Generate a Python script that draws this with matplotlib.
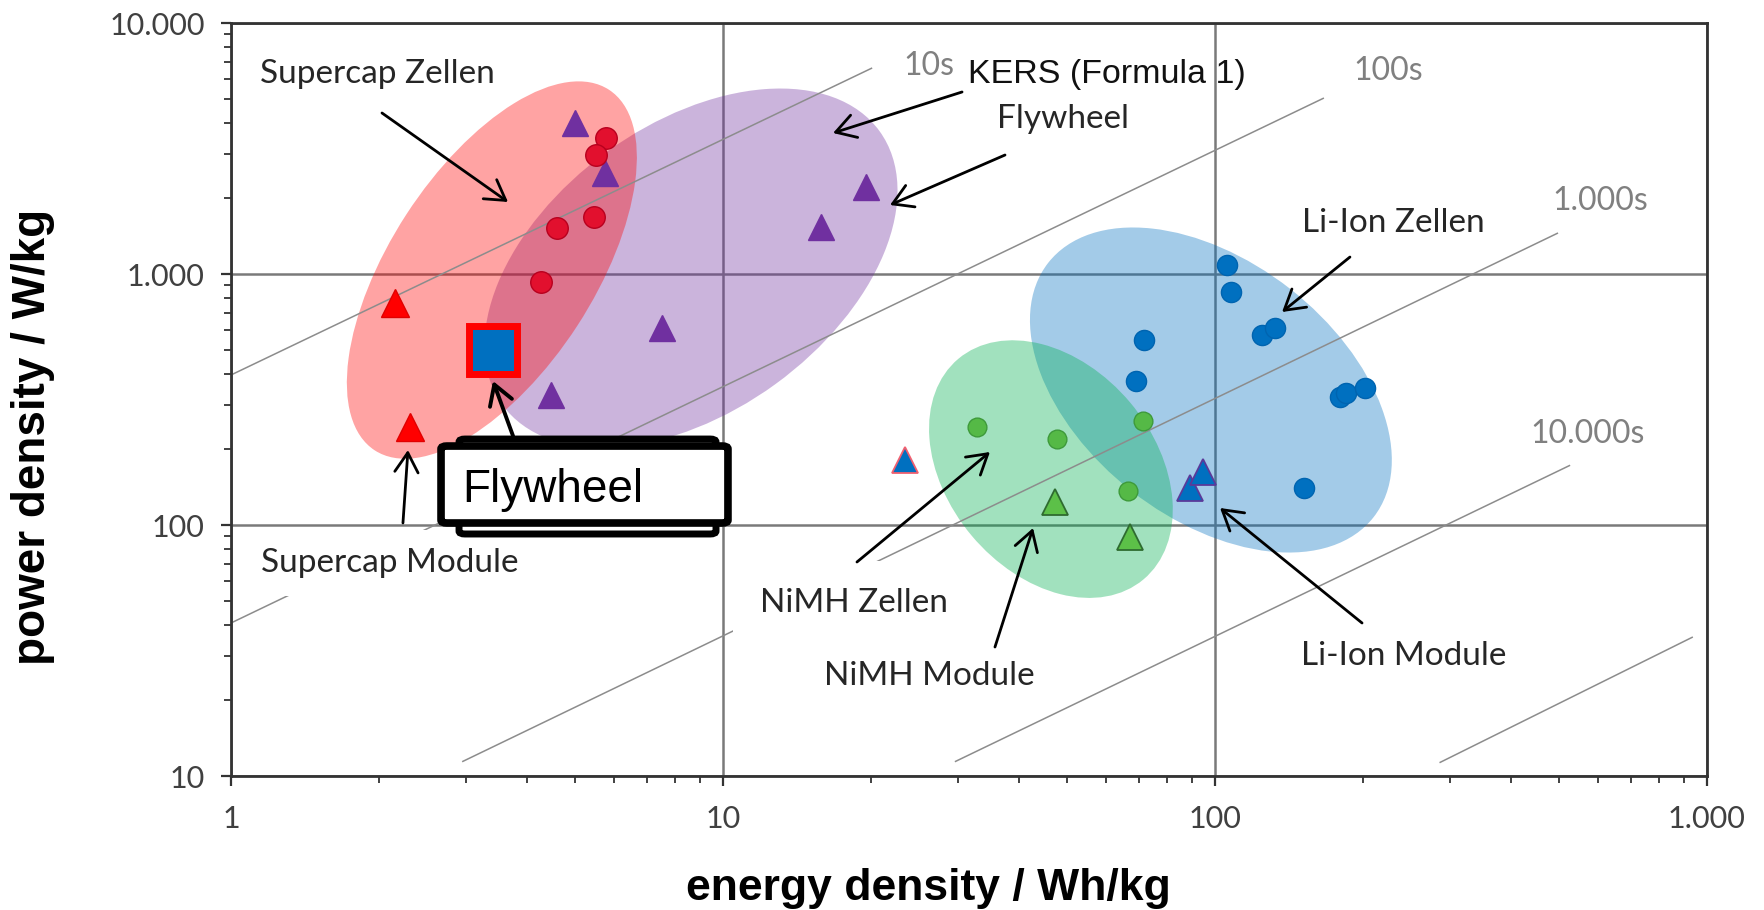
import matplotlib
matplotlib.use("Agg")
import matplotlib.pyplot as plt
from matplotlib.patches import Ellipse, FancyBboxPatch
from matplotlib.transforms import ScaledTranslation
from matplotlib.ticker import NullFormatter

plt.rcParams['font.family'] = ['Lato', 'DejaVu Sans']

# ---------------- data (energy density Wh/kg, power density W/kg) ----------------
supercap_cell_E = [5.78, 5.52, 5.47, 4.60, 4.27]
supercap_cell_P = [3480, 2980, 1690, 1525, 929]
supercap_module_E = [2.15, 2.31]
supercap_module_P = [766, 245]
flywheel_E = [5.0, 5.76, 19.5, 15.8, 7.52, 4.47]
flywheel_P = [4000, 2520, 2220, 1540, 609, 330]
liion_cell_E = [105.8, 108, 124.6, 132.4, 71.7, 69.1, 179.5, 185, 202, 152]
liion_cell_P = [1086, 848, 571, 609, 546, 375, 324, 336, 351, 140]
liion_module_E = [89, 94.6]
liion_module_P = [140, 163]
liion_module_red_E = [23.4]
liion_module_red_P = [181]
nimh_cell_E = [32.8, 47.7, 71.4, 66.6]
nimh_cell_P = [246, 220, 260, 137]
nimh_module_E = [47.3, 67.2]
nimh_module_P = [124, 89.6]
highlight_E = [3.41]
highlight_P = [498]

# region ellipses: centre in data units
region_center_E = [3.39, 8.61, 46.4, 98.1]
region_center_P = [1037, 1056, 167, 345]

# constant discharge-time lines (end points)
time_labels = ['10s', '100s', '1.000s', '10.000s', '']
line_E0 = [1, 1, 2.95, 29.6, 286]
line_P0 = [396, 40.7, 11.4, 11.4, 11.3]
line_E1 = [20.1, 166.5, 498, 527, 936]
line_P1 = [6620, 5025, 1457, 173, 35.8]

x_ticks = [1, 10, 100, 1000]
x_ticklabels = ['1', '10', '100', '1.000']
y_ticks = [10, 100, 1000, 10000]
y_ticklabels = ['10', '100', '1.000', '10.000']

# ---------------- figure ----------------
fig = plt.figure(figsize=(17.64, 9.10), dpi=100)
ax = fig.add_axes([0.13095, 0.14725, 0.83673, 0.82747])
ax.set_xscale('log')
ax.set_yscale('log')
ax.set_xlim(1, 1000)
ax.set_ylim(10, 10000)

ax.set_axisbelow(True)
ax.grid(True, which='major', color='#7a7a7a', lw=1.8)
ax.grid(False, which='minor')
ax.set_xticks(x_ticks, x_ticklabels)
ax.set_yticks(y_ticks, y_ticklabels)
ax.xaxis.set_minor_formatter(NullFormatter())
ax.yaxis.set_minor_formatter(NullFormatter())
ax.tick_params(which='major', direction='out', length=7, width=1.6, color='#333333',
               labelsize=22, labelcolor='#404040')
ax.tick_params(which='minor', direction='out', length=5, width=1.3, color='#333333')
ax.tick_params(axis='y', which='major', pad=12)
ax.tick_params(axis='x', which='major', pad=14)
for s in ax.spines.values():
    s.set_linewidth(2.0)
    s.set_color('#333333')

# ellipses (size in inches, angle in degrees)
ell_style = [
    dict(w=4.30, h=2.04, ang=57, color='#FF0000', alpha=0.36),
    dict(w=4.66, h=2.87, ang=36, color='#7030A0', alpha=0.36),
    dict(w=2.88, h=2.07, ang=-50, color='#00B050', alpha=0.37),
    dict(w=4.13, h=2.57, ang=-38, color='#0070C0', alpha=0.36),
]
order = [1, 0, 3, 2]
for i in order:
    st = ell_style[i]
    tr = fig.dpi_scale_trans + ScaledTranslation(region_center_E[i], region_center_P[i], ax.transData)
    e = Ellipse((0, 0), st['w'], st['h'], angle=st['ang'], transform=tr,
                facecolor=st['color'], alpha=st['alpha'], edgecolor='none', zorder=1)
    ax.add_patch(e)

# time lines
for e0, p0, e1, p1 in zip(line_E0, line_P0, line_E1, line_P1):
    ax.plot([e0, e1], [p0, p1], color='#8c8c8c', lw=1.1, zorder=2, solid_capstyle='butt')

# markers
ax.plot(supercap_module_E, supercap_module_P, '^', ms=20, mfc='#FF0000', mec='#E00000', mew=1, ls='none', zorder=4)
ax.plot(flywheel_E, flywheel_P, '^', ms=19, mfc='#7030A0', mec='#7030A0', mew=1, ls='none', zorder=4)
ax.plot(supercap_cell_E, supercap_cell_P, 'o', ms=15.5, mfc='#E2102E', mec='#B8001E', mew=1, ls='none', zorder=4)
ax.plot(nimh_cell_E, nimh_cell_P, 'o', ms=13.5, mfc='#55B946', mec='#3E9A3A', mew=1, ls='none', zorder=4)
ax.plot(nimh_module_E, nimh_module_P, '^', ms=19, mfc='#5CC048', mec='#2E6B30', mew=1.3, ls='none', zorder=4)
ax.plot(liion_cell_E, liion_cell_P, 'o', ms=14.5, mfc='#0070C0', mec='#0064B0', mew=1, ls='none', zorder=4)
ax.plot(liion_module_E, liion_module_P, '^', ms=19, mfc='#0070C0', mec='#5A3A9A', mew=1.3, ls='none', zorder=4)
ax.plot(liion_module_red_E, liion_module_red_P, '^', ms=19, mfc='#0070C0', mec='#F06070', mew=1.3, ls='none', zorder=4)
ax.plot(highlight_E, highlight_P, 's', ms=35, mfc='#0070C0', mec='#FF0000', mew=5, ls='none', zorder=5)

# time labels
time_label_pos = [(0.4553, 0.9309), (0.7602, 0.9243), (0.8950, 0.7517), (0.8801, 0.4422)]
for lab, (xf, yf) in zip(time_labels, time_label_pos):
    ax.text(xf, yf, lab, transform=ax.transAxes, fontsize=23, color='#808080',
            ha='left', va='baseline', zorder=3)

# annotations
TXT = '#262626'
arrow_kw = dict(arrowstyle='->,head_length=0.5,head_width=0.3', lw=2.0, color='black',
                mutation_scale=28, shrinkA=0, shrinkB=0)

def note(text, xf, yf, start, tip, size=24, bbox=None):
    ax.text(xf, yf, text, transform=ax.transAxes, fontsize=size, color=TXT,
            ha='left', va='baseline', zorder=3, bbox=bbox)
    ax.annotate('', xy=tip, xytext=start, xycoords='axes fraction',
                textcoords='axes fraction', arrowprops=arrow_kw, zorder=6)

def white(p):
    return dict(boxstyle='square,pad=%.2f' % p, fc='white', ec='none')

note('Supercap Zellen', 0.0196, 0.9203, (0.1023, 0.8805), (0.1877, 0.7623))
ax.text(0.4993, 0.9203, 'KERS (Formula 1)', transform=ax.transAxes, fontsize=24.5,
        fontfamily='Liberation Sans', color='#111111', ha='left', va='baseline', zorder=3)
ax.annotate('', xy=(0.4079, 0.8539), xytext=(0.4953, 0.9084), xycoords='axes fraction',
            textcoords='axes fraction', arrowprops=arrow_kw, zorder=6)
note('Flywheel', 0.5190, 0.8606, (0.5244, 0.8247), (0.4465, 0.7583))
note('Li-Ion Zellen', 0.7256, 0.7224, (0.7581, 0.6892), (0.7121, 0.6162))
note('Supercap Module', 0.0203, 0.2709, (0.1165, 0.3360), (0.1199, 0.4329), bbox=white(0.55))
note('NiMH Zellen', 0.3584, 0.2178, (0.4241, 0.2842), (0.5142, 0.4303), bbox=white(0.82))
note('NiMH Module', 0.4018, 0.1208, (0.5176, 0.1713), (0.5434, 0.3293))
note('Li-Ion Module', 0.7249, 0.1474, (0.7663, 0.2032), (0.6701, 0.3559))

# Flywheel call-out boxes
back = FancyBboxPatch((0.1545, 0.3214), 0.3286 - 0.1545, 0.4475 - 0.3214,
                      boxstyle='round,pad=0,rounding_size=0.004', transform=ax.transAxes,
                      fc='white', ec='black', lw=5, zorder=7, clip_on=False)
front = FancyBboxPatch((0.1423, 0.3360), 0.3367 - 0.1423, 0.4382 - 0.3360,
                       boxstyle='round,pad=0,rounding_size=0.004', transform=ax.transAxes,
                       fc='white', ec='black', lw=5.5, zorder=8, clip_on=False)
ax.add_patch(back)
ax.add_patch(front)
ax.text(0.1565, 0.3639, 'Flywheel', transform=ax.transAxes, fontsize=33,
        fontfamily='Liberation Sans', color='black', ha='left', va='baseline', zorder=9)
ax.annotate('', xy=(0.1775, 0.5246), xytext=(0.1911, 0.4515), xycoords='axes fraction',
            textcoords='axes fraction', zorder=6,
            arrowprops=dict(arrowstyle='->,head_length=0.5,head_width=0.3', lw=2.8,
                            color='black', mutation_scale=28, shrinkA=0, shrinkB=0))

# axis labels
ax.set_xlabel('energy density / Wh/kg', fontfamily='Liberation Sans', fontweight='bold',
              fontsize=32, color='black')
ax.xaxis.label.set_va('baseline')
ax.xaxis.set_label_coords(0.4726, -0.1647)
ax.set_ylabel('power density / W/kg', fontfamily='Liberation Sans', fontweight='bold',
              fontsize=33, color='black')
ax.yaxis.set_label_coords(-0.119, 0.450)

fig.savefig('out.png', dpi=100)
